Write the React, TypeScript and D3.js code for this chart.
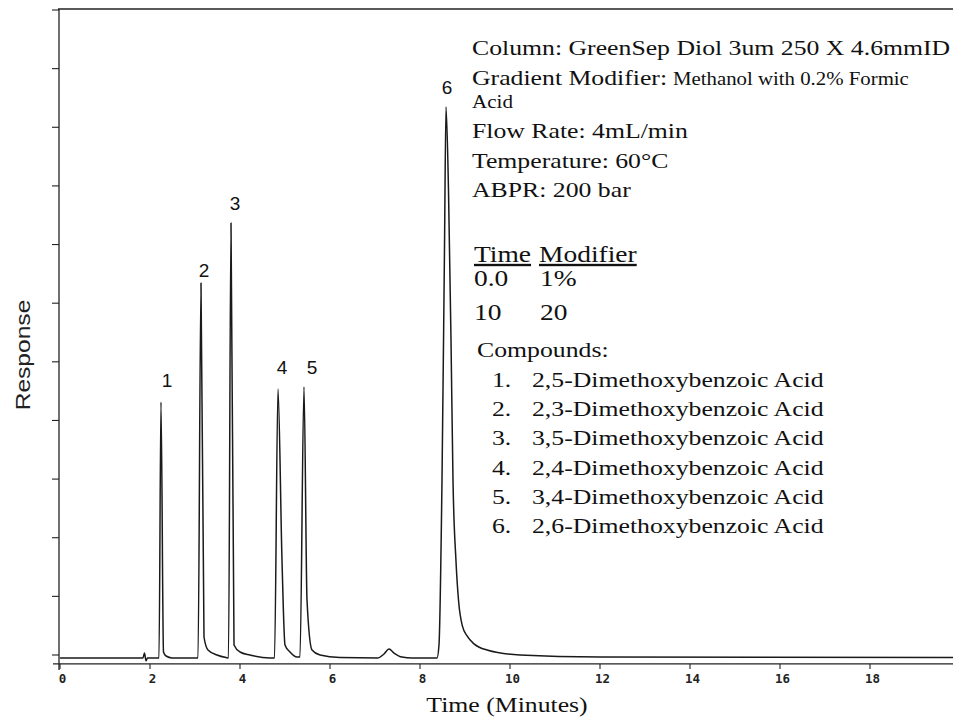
import React from 'react';
import * as d3 from 'd3';

// Chromatogram trace: time (min) and response (tick units)
const traceTime = [
  0, 1.844, 1.878, 1.911, 1.944,
  2.2, 2.244, 2.3, 2.356, 2.489,
  3.067, 3.133, 3.2, 3.289, 3.489, 3.689,
  3.744, 3.8, 3.867, 4.0, 4.222, 4.667,
  4.767, 4.844, 4.933, 5.0, 5.111, 5.267,
  5.333, 5.422, 5.489, 5.6, 5.778, 6.222,
  7.067, 7.2, 7.311, 7.422, 7.6, 7.822,
  8.378, 8.422, 8.489, 8.544, 8.578, 8.633, 8.689, 8.733, 8.8, 8.86, 8.94, 9.05, 9.2, 9.489, 10.222, 12.0, 19.9,
];
const traceResponse = [
  -0.05, -0.05, 0.034, -0.1, -0.05,
  -0.05, 4.315, 0.051, -0.017, -0.05,
  -0.05, 6.344, 0.307, 0.085, 0, -0.043,
  -0.05, 7.368, 0.171, 0.051, 0, -0.05,
  -0.05, 4.536, 1.62, 0.171, 0.051, -0.034,
  -0.034, 4.571, 0.938, 0.085, 0, -0.043,
  -0.05, 0.017, 0.102, 0.034, -0.034, -0.05,
  -0.05, 0.171, 2.985, 6.907, 9.346, 7.93, 5.372, 2.985, 1.6, 0.9, 0.5, 0.32, 0.19, 0.085, 0, -0.034, -0.043,
];

const peakNames = ['1', '2', '3', '4', '5', '6'];
const peakLabelTime = [2.378, 3.2, 3.889, 4.933, 5.6, 8.6];
const peakLabelResponse = [4.571, 6.447, 7.589, 4.792, 4.792, 9.567];

const xTickValues = [0, 2, 4, 6, 8, 10, 12, 14, 16, 18];
const yTickValues = [0, 1, 2, 3, 4, 5, 6, 7, 8, 9, 10, 11];

const conditionLines = [
  'Column: GreenSep Diol 3um 250 X 4.6mmID',
  'Flow Rate: 4mL/min',
  'Temperature: 60°C',
  'ABPR: 200 bar',
];
const gradientLabel = 'Gradient Modifier:';
const gradientModifierText = ['Methanol with 0.2% Formic', 'Acid'];
const gradientTime = ['0.0', '10'];
const gradientModifier = ['1%', '20'];
const compounds = [
  '2,5-Dimethoxybenzoic Acid',
  '2,3-Dimethoxybenzoic Acid',
  '3,5-Dimethoxybenzoic Acid',
  '2,4-Dimethoxybenzoic Acid',
  '3,4-Dimethoxybenzoic Acid',
  '2,6-Dimethoxybenzoic Acid',
];

const SERIF = '"Liberation Serif", "Times New Roman", serif';
const SANS = '"Liberation Sans", Arial, sans-serif';
const MONO = '"DejaVu Sans Mono", monospace';
const SX = 1.17;

function ST(props: { x: number; y: number; size: number; children: React.ReactNode; underline?: boolean }) {
  return (
    <text
      transform={`translate(${props.x},${props.y}) scale(${SX},1)`}
      fontFamily={SERIF}
      fontSize={props.size}
      fill="#111"
      style={props.underline ? { textDecoration: 'underline' } : undefined}
    >
      {props.children}
    </text>
  );
}

export default function App() {
  const W = 953;
  const H = 719;
  const x = d3.scaleLinear().domain([0, 20]).range([60, 960]);
  const y = d3.scaleLinear().domain([0, 11]).range([655, 10]);
  const axisY = y(-0.153);

  const pts: [number, number][] = traceTime.map((t, i) => [t, traceResponse[i]]);
  const line = d3
    .line<[number, number]>()
    .x((d) => x(d[0]))
    .y((d) => y(d[1]))
    .curve(d3.curveMonotoneX);

  const stroke = '#222';

  return (
    <svg
      width={W}
      height={H}
      viewBox={`0 0 ${W} ${H}`}
      style={{ position: 'absolute', left: 0, top: 0, background: '#fff' }}
    >
      <rect x={0} y={0} width={W} height={H} fill="#fff" />
      {/* frame */}
      <line x1={x(0) - 2} x2={W} y1={y(11) - 1} y2={y(11) - 1} stroke={stroke} strokeWidth={1.3} />
      <line x1={x(0) - 1} x2={x(0) - 1} y1={y(11) - 1} y2={axisY + 6} stroke={stroke} strokeWidth={1.3} />
      {/* y ticks */}
      {yTickValues.map((v) => (
        <line key={'yt' + v} x1={x(0) - 8} x2={x(0) - 1} y1={y(v)} y2={y(v)} stroke={stroke} strokeWidth={1.1} />
      ))}
      {/* x axis */}
      <line x1={x(0) - 7} x2={W} y1={axisY} y2={axisY} stroke={stroke} strokeWidth={1.3} />
      {xTickValues.map((v) => (
        <g key={'xt' + v}>
          <line x1={x(v)} x2={x(v)} y1={axisY} y2={axisY + 5} stroke={stroke} strokeWidth={1.1} />
          <text
            x={x(v) + 2.5}
            y={683}
            textAnchor="middle"
            fontFamily={MONO}
            fontWeight="bold"
            fontSize={12.5}
            fill="#222"
          >
            {v}
          </text>
        </g>
      ))}
      {/* trace */}
      <path d={line(pts) || ''} fill="none" stroke="#1a1a1a" strokeWidth={1.5} strokeLinejoin="round" />
      {/* peak labels */}
      {peakNames.map((n, i) => (
        <text
          key={'pl' + n}
          x={x(peakLabelTime[i])}
          y={y(peakLabelResponse[i])}
          textAnchor="middle"
          fontFamily={SANS}
          fontSize={19}
          fill="#111"
        >
          {n}
        </text>
      ))}
      {/* axis titles */}
      <text
        transform={`translate(30,355) rotate(-90) scale(${SX},1)`}
        textAnchor="middle"
        fontFamily={SANS}
        fontSize={21}
        fill="#222"
      >
        Response
      </text>
      <text
        transform={`translate(507,712) scale(${SX},1)`}
        textAnchor="middle"
        fontFamily={SERIF}
        fontSize={22}
        fill="#111"
      >
        Time (Minutes)
      </text>
      {/* conditions block */}
      <ST x={472} y={55} size={22}>{conditionLines[0]}</ST>
      <ST x={472} y={85} size={22}>{gradientLabel}</ST>
      <ST x={673} y={85} size={17.8}>{gradientModifierText[0]}</ST>
      <ST x={472} y={108} size={18}>{gradientModifierText[1]}</ST>
      <ST x={472} y={138} size={22}>{conditionLines[1]}</ST>
      <ST x={472} y={168} size={22}>{conditionLines[2]}</ST>
      <ST x={472} y={197} size={22}>{conditionLines[3]}</ST>
      {/* gradient table */}
      <ST x={474} y={262} size={23.5} underline>Time</ST>
      <ST x={539} y={262} size={23.5} underline>Modifier</ST>
      {gradientTime.map((t, i) => (
        <g key={'gt' + i}>
          <ST x={474} y={286 + i * 34} size={23.5}>{t}</ST>
          <ST x={540} y={286 + i * 34} size={23.5}>{gradientModifier[i]}</ST>
        </g>
      ))}
      <ST x={477} y={357} size={22}>Compounds:</ST>
      {compounds.map((c, i) => (
        <g key={'c' + i}>
          <ST x={492} y={387 + i * 29.2} size={22}>{`${i + 1}.`}</ST>
          <ST x={532} y={387 + i * 29.2} size={22}>{c}</ST>
        </g>
      ))}
    </svg>
  );
}
